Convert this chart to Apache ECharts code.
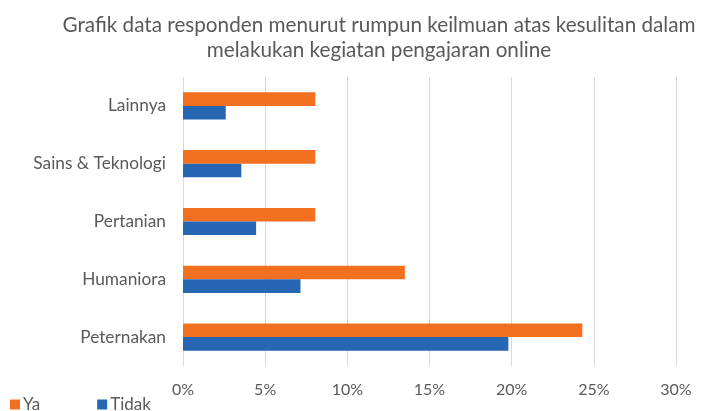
<!DOCTYPE html>
<html>
<head>
<meta charset="utf-8">
<script src="https://cdn.jsdelivr.net/npm/echarts@6/dist/echarts.min.js"></script>
<style>
  html, body { margin: 0; padding: 0; background: #fff; }
  #chart { width: 704px; height: 411px; }
</style>
</head>
<body>
<div id="chart"></div>
<script>
// bottom to top, as the category axis draws them
var categories = ['Peternakan', 'Humaniora', 'Pertanian', 'Sains & Teknologi', 'Lainnya'];
var yaValues = [24.3, 13.5, 8.05, 8.05, 8.05];
var tidakValues = [19.8, 7.15, 4.45, 3.55, 2.6];

var textColor = '#595959';
var chart = echarts.init(document.getElementById('chart'));

var option = {
  backgroundColor: '#fff',
  animation: false,
  title: {
    text: 'Grafik data responden menurut rumpun keilmuan atas kesulitan dalam\nmelakukan kegiatan pengajaran online',
    left: 374,
    top: 8,
    textAlign: 'center',
    textStyle: {
      fontFamily: 'Lato',
      fontSize: 20.7,
      fontWeight: 'normal',
      color: textColor,
      lineHeight: 25
    }
  },
  legend: {
    data: ['Ya', 'Tidak'],
    left: 10,
    top: 396,
    padding: 0,
    itemWidth: 10,
    itemHeight: 10,
    itemGap: 57,
    icon: 'rect',
    textStyle: { fontFamily: 'Lato', fontSize: 17, color: textColor, padding: [0, 0, 0, -2] }
  },
  grid: { left: 183, right: 28, top: 77, bottom: 45 },
  xAxis: {
    type: 'value',
    min: 0,
    max: 30,
    interval: 5,
    axisLine: { show: false },
    axisTick: { show: false },
    splitLine: { lineStyle: { color: '#d9d9d9', width: 1 } },
    axisLabel: {
      formatter: '{value}%',
      fontFamily: 'Lato',
      fontSize: 16,
      color: textColor,
      margin: 16
    }
  },
  yAxis: {
    type: 'category',
    data: categories,
    axisLine: { show: false },
    axisTick: { show: false },
    axisLabel: {
      fontFamily: 'Lato',
      fontSize: 17.3,
      color: textColor,
      margin: 17
    }
  },
  series: [
    {
      name: 'Ya',
      type: 'bar',
      data: yaValues,
      itemStyle: { color: '#f37021' },
      barGap: '0%',
      barCategoryGap: '53%'
    },
    {
      name: 'Tidak',
      type: 'bar',
      data: tidakValues,
      itemStyle: { color: '#2766b2' },
      barGap: '0%',
      barCategoryGap: '53%'
    }
  ]
};

chart.setOption(option);
window.addEventListener('resize', function () {
  chart.resize();
});
</script>
</body>
</html>
